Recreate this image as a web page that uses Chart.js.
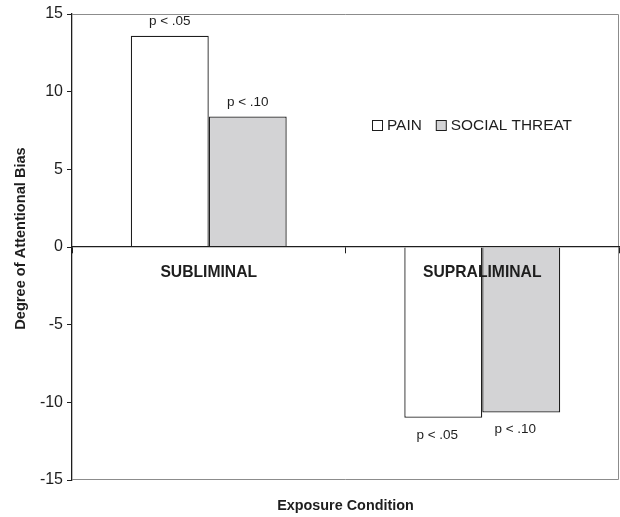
<!DOCTYPE html>
<html>
<head>
<meta charset="utf-8">
<script src="https://cdn.jsdelivr.net/npm/chart.js@4"></script>
<style>
  html, body { margin: 0; padding: 0; background: #fff; }
  #wrap { width: 620px; height: 517px; }
</style>
</head>
<body>
<div id="wrap"><canvas id="c" width="620" height="517"></canvas></div>
<script>
const categories = ["SUBLIMINAL", "SUPRALIMINAL"];
const seriesNames = ["PAIN", "SOCIAL THREAT"];
const painValues = [13.6, -11.0];
const threatValues = [8.4, -10.65];
const painLabels = ["p < .05", "p < .05"];
const threatLabels = ["p < .10", "p < .10"];
const yTicks = [-15, -10, -5, 0, 5, 10, 15];
const yTitle = "Degree of Attentional Bias";
const xTitle = "Exposure Condition";

const FONT = "'Liberation Sans', Arial, Helvetica, sans-serif";
const INK = "#1e1e1e";

const frame = {
  id: "frame",
  afterDatasetsDraw(chart) {
    const { ctx, chartArea: a } = chart;
    ctx.save();
    ctx.strokeStyle = "#8c8c8c";
    ctx.lineWidth = 1;
    ctx.beginPath();
    ctx.moveTo(a.left, a.top + 0.5);
    ctx.lineTo(a.right - 0.5, a.top + 0.5);
    ctx.lineTo(a.right - 0.5, a.bottom - 0.5);
    ctx.lineTo(a.left, a.bottom - 0.5);
    ctx.stroke();
    ctx.restore();
  }
};

const pLabels = {
  id: "pLabels",
  afterDatasetsDraw(chart) {
    const { ctx } = chart;
    const sets = [painLabels, threatLabels];
    ctx.save();
    ctx.font = "13.5px " + FONT;
    ctx.fillStyle = INK;
    ctx.textAlign = "center";
    ctx.textBaseline = "middle";
    chart.data.datasets.forEach((ds, di) => {
      const meta = chart.getDatasetMeta(di);
      meta.data.forEach((el, i) => {
        const v = ds.data[i];
        const y = v >= 0 ? el.y - 14 : el.y + 17;
        ctx.fillText(sets[di][i], el.x - (v >= 0 ? 0 : 6), y);
      });
    });
    ctx.restore();
  }
};

const legendBox = {
  id: "legendBox",
  afterDraw(chart) {
    const { ctx } = chart;
    ctx.save();
    ctx.font = "15.4px " + FONT;
    ctx.textBaseline = "middle";
    ctx.textAlign = "left";
    let x = 372;
    const yc = 125.5;
    chart.data.datasets.forEach((ds, i) => {
      ctx.fillStyle = ds.backgroundColor;
      ctx.fillRect(x + 0.5, yc - 5, 10, 10);
      ctx.strokeStyle = INK;
      ctx.lineWidth = 1;
      ctx.strokeRect(x + 0.5, yc - 5, 10, 10);
      ctx.fillStyle = INK;
      ctx.fillText(ds.label, x + 15, yc);
      x += 15 + ctx.measureText(ds.label).width + 14;
    });
    ctx.restore();
  }
};

const titles = {
  id: "titles",
  afterDraw(chart) {
    const { ctx, chartArea: a } = chart;
    ctx.save();
    ctx.fillStyle = INK;
    ctx.textAlign = "center";
    ctx.textBaseline = "middle";
    ctx.font = "bold 14.4px " + FONT;
    ctx.fillText(xTitle, (a.left + a.right) / 2, 506.5);
    ctx.translate(21, 238.5);
    ctx.rotate(-Math.PI / 2);
    ctx.font = "bold 14.6px " + FONT;
    ctx.fillText(yTitle, 0, 0);
    ctx.restore();
  }
};

new Chart(document.getElementById("c"), {
  type: "bar",
  data: {
    labels: categories,
    datasets: [
      { label: seriesNames[0], data: painValues, backgroundColor: "#ffffff", borderColor: INK, borderWidth: 1.3 },
      { label: seriesNames[1], data: threatValues, backgroundColor: "#d3d3d5", borderColor: INK, borderWidth: 1.3 }
    ]
  },
  options: {
    responsive: false,
    animation: false,
    devicePixelRatio: 1,
    layout: { padding: { left: 0, right: 1, top: 14, bottom: 37 } },
    datasets: { bar: { categoryPercentage: 0.57, barPercentage: 1.0, borderSkipped: "start" } },
    plugins: {
      legend: { display: false },
      tooltip: { enabled: false },
      title: { display: false }
    },
    scales: {
      x: {
        type: "category",
        position: { y: 0 },
        offset: true,
        grid: { display: true, offset: true, drawOnChartArea: false, drawTicks: true, tickLength: 6, color: INK, lineWidth: 1, z: 1 },
        border: { display: true, color: INK, width: 1.3, z: 1 },
        ticks: { color: INK, font: { family: FONT, size: 15.7, weight: "bold" }, padding: 10, maxRotation: 0, z: 1 }
      },
      y: {
        min: -15,
        max: 15,
        afterFit(s) { s.width = 72; },
        afterBuildTicks(s) { s.ticks = yTicks.map(v => ({ value: v })); },
        grid: { drawOnChartArea: false, drawTicks: true, tickLength: 5, color: INK },
        border: { display: true, color: INK, width: 1.3 },
        ticks: { color: INK, font: { family: FONT, size: 16 }, padding: 4 }
      }
    }
  },
  plugins: [frame, pLabels, legendBox, titles]
});
</script>
</body>
</html>
